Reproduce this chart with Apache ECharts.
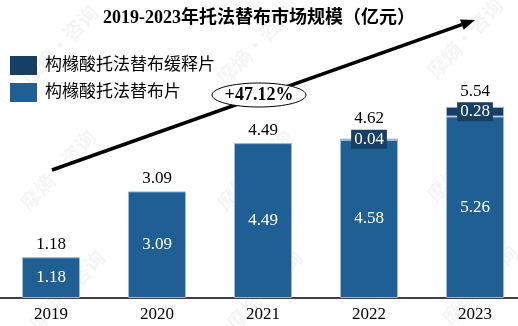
<!DOCTYPE html>
<html>
<head>
<meta charset="utf-8">
<script src="https://cdn.jsdelivr.net/npm/echarts@6/dist/echarts.min.js"></script>
<style>
  html, body { margin: 0; padding: 0; background: #fff; }
  #chart { width: 518px; height: 326px; }
</style>
</head>
<body>
<div id="chart"></div>
<script>
// Tofacitinib market size by year (100 million yuan)
const years = ['2019', '2020', '2021', '2022', '2023'];
const tabletValues = [1.18, 3.09, 4.49, 4.58, 5.26];          // 构橼酸托法替布片
const extendedValues = [null, null, null, 0.04, 0.28];        // 构橼酸托法替布缓释片
const growthText = '+47.12%';
const watermarkText = '摩熵·咨询';

const totals = years.map((_, i) => tabletValues[i] + (extendedValues[i] || 0));

const SERIF = "'Liberation Serif', 'Times New Roman', 'Noto Sans CJK SC', serif";
const CJK = "'Liberation Serif', 'Noto Sans CJK SC', serif";
const MAIN_BLUE = '#1F5F93';
const DARK_BLUE = '#173F64';

const chart = echarts.init(document.getElementById('chart'), null, { renderer: 'canvas' });

// Trend arrow geometry
const ax0 = 52, ay0 = 170, ax1 = 475, ay1 = 20;
const ang = Math.atan2(ay1 - ay0, ax1 - ax0);
const headLen = 14, headHalf = 5.5;
const bx = ax1 - headLen * Math.cos(ang), by = ay1 - headLen * Math.sin(ang);
const nx = -Math.sin(ang), ny = Math.cos(ang);

// Faint background watermark tiles
const wmCenters = [[60, 45], [58, 170], [67, 290], [255, 45], [255, 170], [265, 290], [465, 38], [465, 162], [480, 285]];
const watermarks = wmCenters.map(([x, y]) => ({
  type: 'text',
  x, y,
  rotation: 47 * Math.PI / 180,
  silent: true,
  z: -10,
  style: {
    text: watermarkText,
    fill: 'rgba(0,0,0,0.045)',
    font: "bold 20px 'Noto Sans CJK SC', sans-serif",
    align: 'center',
    verticalAlign: 'middle'
  }
}));

const option = {
  animation: false,
  backgroundColor: '#fff',
  title: {
    text: '2019-2023年托法替布市场规模（亿元）',
    left: 'center',
    top: 4,
    textStyle: { fontFamily: CJK, fontSize: 18, fontWeight: 'bold', color: '#000' }
  },
  legend: {
    orient: 'vertical',
    left: 5,
    top: 51,
    itemWidth: 27,
    itemHeight: 19,
    itemGap: 8,
    icon: 'rect',
    data: ['构橼酸托法替布缓释片', '构橼酸托法替布片'],
    itemStyle: { borderWidth: 0 },
    textStyle: { fontFamily: CJK, fontSize: 17, color: '#000', padding: [0, 0, 0, 3] }
  },
  grid: { left: -2, width: 530, top: 91, bottom: 28, containLabel: false, outerBoundsMode: 'none' },
  xAxis: {
    type: 'category',
    data: years,
    axisLine: { lineStyle: { color: '#000', width: 1.5 } },
    axisTick: { show: false },
    axisLabel: { fontFamily: SERIF, fontSize: 17, color: '#000', margin: 8 }
  },
  yAxis: {
    type: 'value',
    min: 0,
    max: 6,
    show: false,
    splitLine: { show: false }
  },
  series: [
    {
      name: '构橼酸托法替布片',
      type: 'bar',
      stack: 'total',
      barWidth: 58,
      data: tabletValues,
      itemStyle: { color: MAIN_BLUE, borderColor: '#9DB9D5', borderWidth: 1 },
      label: {
        show: true,
        position: 'inside',
        color: '#fff',
        fontFamily: SERIF,
        fontSize: 17,
        formatter: p => p.value.toFixed(2)
      }
    },
    {
      name: '构橼酸托法替布缓释片',
      type: 'bar',
      stack: 'total',
      barWidth: 58,
      data: extendedValues,
      itemStyle: { color: DARK_BLUE, borderColor: '#9DB9D5', borderWidth: 1 },
      label: {
        show: true,
        position: 'inside',
        color: '#fff',
        fontFamily: SERIF,
        fontSize: 17,
        backgroundColor: DARK_BLUE,
        padding: [1, 3],
        formatter: p => (p.value == null ? '' : p.value.toFixed(2))
      }
    },
    {
      name: 'total',
      type: 'bar',
      stack: 'total',
      barWidth: 58,
      silent: true,
      data: totals.map((t, i) => ({
        value: 0,
        label: { distance: i === 3 ? 12 : (i === 4 ? 7 : 4) }
      })),
      itemStyle: { color: 'rgba(0,0,0,0)', borderWidth: 0 },
      label: {
        show: true,
        position: 'top',
        color: '#000',
        fontFamily: SERIF,
        fontSize: 17,
        formatter: p => totals[p.dataIndex].toFixed(2)
      }
    }
  ],
  graphic: watermarks.concat([
    {
      type: 'line',
      shape: { x1: ax0, y1: ay0, x2: bx, y2: by },
      style: { stroke: '#000', lineWidth: 3.5 },
      z: 10
    },
    {
      type: 'polygon',
      shape: { points: [[ax1, ay1], [bx + nx * headHalf, by + ny * headHalf], [bx - nx * headHalf, by - ny * headHalf]] },
      style: { fill: '#000' },
      z: 10
    },
    {
      type: 'ellipse',
      shape: { cx: 259, cy: 95, rx: 47, ry: 12 },
      style: { fill: '#fff', stroke: '#000', lineWidth: 1 },
      z: 11
    },
    {
      type: 'text',
      x: 259,
      y: 95,
      style: {
        text: growthText,
        fill: '#000',
        font: "bold 18px 'Liberation Serif', serif",
        align: 'center',
        verticalAlign: 'middle'
      },
      z: 12
    }
  ])
};

chart.setOption(option);
</script>
</body>
</html>
